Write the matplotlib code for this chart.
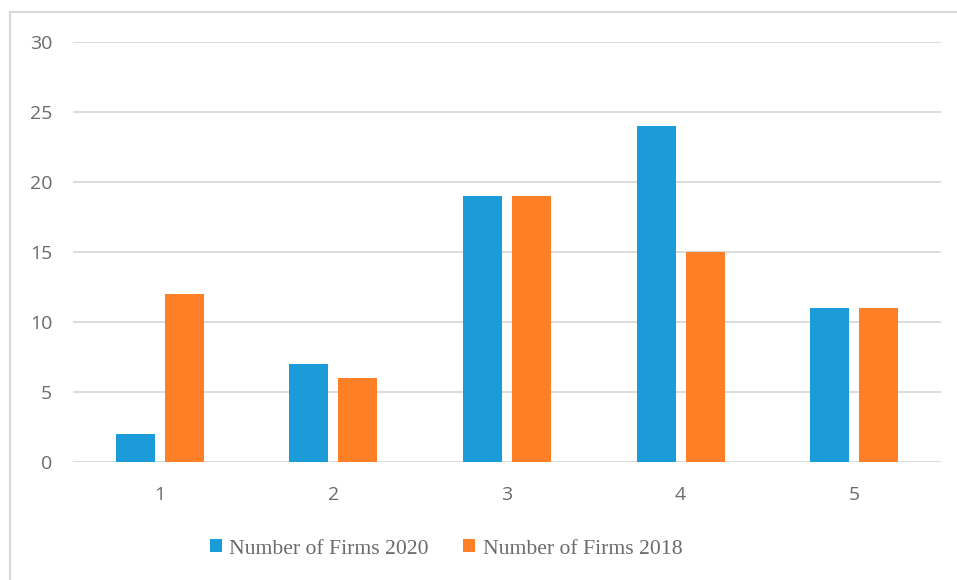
import matplotlib
matplotlib.use("Agg")
import matplotlib.pyplot as plt
import numpy as np
from matplotlib.patches import Rectangle

categories = ["1", "2", "3", "4", "5"]
firms_2020 = [2, 7, 19, 24, 11]
firms_2018 = [12, 6, 19, 15, 11]
series_labels = ["Number of Firms 2020", "Number of Firms 2018"]
yticks = [0, 5, 10, 15, 20, 25, 30]

blue = "#1B9BD7"
orange = "#FE7F25"
text_gray = "#6b6b6b"
grid_gray = "#d9d9d9"

fig = plt.figure(figsize=(9.57, 5.80), dpi=100)
W, H = 957, 580
ax = fig.add_axes([73 / W, 1 - 462 / H, (941 - 73) / W, (462 - 42) / H])

x = np.arange(len(categories))
bw = 0.225
off = 0.141
ax.bar(x - off, firms_2020, bw, color=blue, label=series_labels[0], zorder=3)
ax.bar(x + off, firms_2018, bw, color=orange, label=series_labels[1], zorder=3)

ax.set_xlim(-0.5, len(categories) - 0.5)
ax.set_ylim(0, 30)
ax.set_yticks(yticks)
ax.set_xticks(x)
ax.set_xticklabels(categories)
for s in ax.spines.values():
    s.set_visible(False)
ax.yaxis.grid(True, color=grid_gray, linewidth=1.3, zorder=0)
ax.tick_params(axis="both", length=0, labelsize=14, labelcolor=text_gray)
ax.tick_params(axis="y", pad=15)
ax.tick_params(axis="x", pad=17)
for lab in ax.get_xticklabels() + ax.get_yticklabels():
    lab.set_fontfamily(["Open Sans", "DejaVu Sans"])

# outer chart border
fig.patches.append(Rectangle((10 / W, -0.1), 1.2, 1 - 12 / H + 0.1,
                             transform=fig.transFigure, fill=False,
                             edgecolor=grid_gray, linewidth=1.5, zorder=0))

leg = fig.legend(loc="center", bbox_to_anchor=(446 / W, 1 - 549 / H),
                 ncol=2, frameon=False, handlelength=0.55, handleheight=0.55,
                 handletextpad=0.35, columnspacing=1.6,
                 prop={"family": ["Liberation Serif", "DejaVu Serif"], "size": 15.6})
for t in leg.get_texts():
    t.set_color(text_gray)

fig.savefig("out.png", dpi=100)
